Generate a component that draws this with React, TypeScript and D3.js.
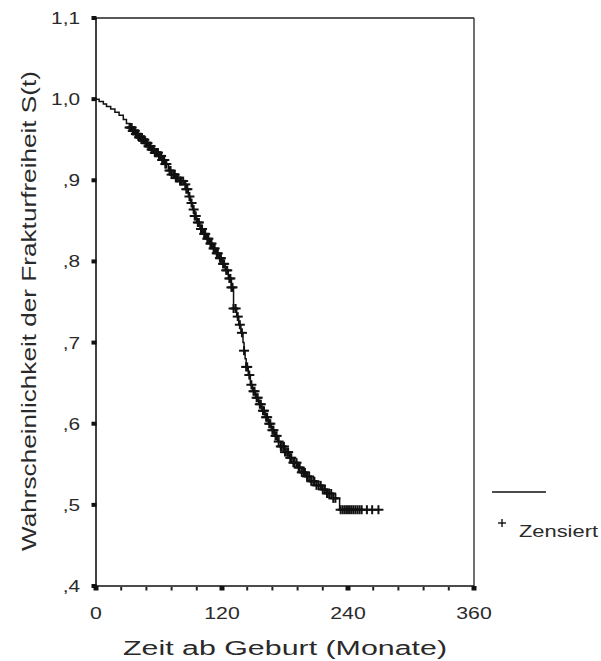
import React from "react";
import * as d3 from "d3";

// Kaplan-Meier step points: [time (months), survival after step]
const eventTimes = [0, 3, 7, 10, 14, 18, 22, 26, 29, 32, 35, 38, 41, 44, 47, 50, 53, 56, 60, 63, 66, 69, 72, 76, 80, 84, 86, 88, 90, 92, 94, 96, 99, 102, 105, 108, 111, 114, 117, 120, 123, 126, 129, 131, 134, 136, 138, 140, 141, 142, 143, 145, 147, 149, 152, 155, 158, 161, 164, 167, 170, 173, 176, 180, 184, 188, 192, 196, 200, 205, 210, 215, 220, 226, 232, 270];
const survival = [1.0, 0.997, 0.994, 0.991, 0.988, 0.984, 0.98, 0.975, 0.97, 0.965, 0.961, 0.957, 0.953, 0.95, 0.946, 0.942, 0.938, 0.934, 0.93, 0.925, 0.92, 0.912, 0.907, 0.903, 0.899, 0.895, 0.889, 0.88, 0.872, 0.864, 0.856, 0.848, 0.84, 0.834, 0.828, 0.822, 0.816, 0.81, 0.804, 0.797, 0.789, 0.779, 0.768, 0.742, 0.732, 0.722, 0.712, 0.7, 0.69, 0.68, 0.67, 0.66, 0.648, 0.64, 0.632, 0.624, 0.616, 0.608, 0.6, 0.592, 0.585, 0.578, 0.572, 0.565, 0.558, 0.552, 0.546, 0.54, 0.535, 0.529, 0.524, 0.519, 0.514, 0.508, 0.494, 0.494];

// Censored observation times (months)
const censoredTimes = [
  32, 33, 34, 35, 36, 37, 38, 39, 40, 41, 42, 43, 44, 45, 46, 47, 48, 49, 50, 51, 52, 53, 54, 55, 56, 57, 58, 59, 60, 61, 62, 63, 64, 65, 66, 67,
  70, 71, 72, 74, 75, 76, 77, 78, 80, 81, 83, 85, 86, 87, 89, 91, 93, 94, 95, 97, 98, 100, 101, 103, 104,
  106, 107, 109, 110, 112, 113, 115, 116, 118, 119, 121, 122, 124, 125, 127, 128, 129, 130,
  131, 133, 135, 137, 139, 141, 143, 144, 146, 148, 150, 151, 153, 154, 156, 157, 159, 160, 162, 163, 165, 166, 168, 169, 171, 172, 174,
  176, 177, 179, 180, 182, 183, 185, 186, 188, 189, 191, 193, 194, 196, 198, 199, 201, 203, 205, 207, 208, 210, 212, 214, 216, 218, 220, 222, 224, 226, 228,
  233, 235, 237, 239, 241, 243, 245, 247, 249, 251, 253, 258, 263, 269,
];

const xTickValues = [0, 120, 240, 360];
const xTickLabels = ["0", "120", "240", "360"];
const xMinorTicks = [24, 48, 72, 96, 144, 168, 192, 216, 264, 288, 312, 336];
const yTickValues = [1.1, 1.0, 0.9, 0.8, 0.7, 0.6, 0.5, 0.4];
const yTickLabels = ["1,1", "1,0", ",9", ",8", ",7", ",6", ",5", ",4"];

const xTitle = "Zeit ab Geburt (Monate)";
const yTitle = "Wahrscheinlichkeit der Frakturfreiheit S(t)";
const legendLabel = "Zensiert";

export default function App() {
  const W = 601, H = 661;
  const x = d3.scaleLinear().domain([0, 360]).range([96, 474]);
  const y = d3.scaleLinear().domain([0.4, 1.1]).range([586, 18]);

  const pts: [number, number][] = eventTimes.map((t, i) => [t, survival[i]]);
  const line = d3
    .line<[number, number]>()
    .x((d) => x(d[0]))
    .y((d) => y(d[1]))
    .curve(d3.curveStepAfter);

  const survAt = (t: number) => {
    let s = survival[0];
    for (let i = 0; i < eventTimes.length; i++) {
      if (eventTimes[i] <= t) s = survival[i];
    }
    return s;
  };

  const font = "'Liberation Sans', Arial, sans-serif";
  const txt = "#2a2a2a";
  const [x0, x1] = x.range();
  const [y0, y1] = y.range();

  return (
    <svg width={W} height={H} style={{ position: "absolute", left: 0, top: 0, background: "#fff" }}>
      <rect x={0} y={0} width={W} height={H} fill="#fff" />
      {/* frame */}
      <line x1={x0} x2={x1} y1={y1} y2={y1} stroke="#222" strokeWidth={1.3} />
      <line x1={x1} x2={x1} y1={y1} y2={y0} stroke="#222" strokeWidth={1.3} />
      <line x1={x0} x2={x1} y1={y0} y2={y0} stroke="#111" strokeWidth={1.6} />
      <line x1={x0} x2={x0} y1={y1} y2={y0} stroke="#111" strokeWidth={1.6} />

      {/* y ticks */}
      {yTickValues.map((v, i) => (
        <g key={"yt" + i}>
          <rect x={x0 - 4.5} y={y(v) - 2} width={5} height={4} fill="#111" />
          <text
            transform={`translate(${80},${y(v) + 6}) scale(1.3,1)`}
            textAnchor="end"
            fontFamily={font}
            fontSize={16}
            fill={txt}
          >
            {yTickLabels[i]}
          </text>
        </g>
      ))}

      {/* x ticks */}
      {xTickValues.map((v, i) => (
        <g key={"xt" + i}>
          <rect x={x(v) - 2.5} y={y0} width={5} height={4.5} fill="#111" />
          <text
            transform={`translate(${x(v)},${619}) scale(1.25,1)`}
            textAnchor="middle"
            fontFamily={font}
            fontSize={17}
            fill={txt}
          >
            {xTickLabels[i]}
          </text>
        </g>
      ))}
      {xMinorTicks.map((v, i) => (
        <rect key={"xm" + i} x={x(v) - 1} y={y0 + 1} width={2} height={3.5} fill="#222" />
      ))}

      {/* survival curve */}
      <path d={line(pts) ?? ""} fill="none" stroke="#111" strokeWidth={1.5} />

      {/* censor marks */}
      {censoredTimes.map((t, i) => {
        const cx = x(t);
        const cy = y(survAt(t));
        return (
          <g key={"c" + i} stroke="#111" strokeWidth={2}>
            <line x1={cx - 5} x2={cx + 5} y1={cy} y2={cy} />
            <line x1={cx} x2={cx} y1={cy - 4.5} y2={cy + 4.5} />
          </g>
        );
      })}

      {/* axis titles */}
      <text
        x={285}
        y={655}
        textAnchor="middle"
        fontFamily={font}
        fontSize={20}
        fill={txt}
        textLength={324}
        lengthAdjust="spacingAndGlyphs"
      >
        {xTitle}
      </text>
      <text
        transform={`translate(36,${311}) rotate(-90)`}
        textAnchor="middle"
        fontFamily={font}
        fontSize={20}
        fill={txt}
        textLength={480}
        lengthAdjust="spacingAndGlyphs"
      >
        {yTitle}
      </text>

      {/* legend */}
      <line x1={492} x2={546} y1={492} y2={492} stroke="#111" strokeWidth={1.3} />
      <g stroke="#111" strokeWidth={1.4}>
        <line x1={498} x2={506} y1={523} y2={523} />
        <line x1={502} x2={502} y1={519} y2={527} />
      </g>
      <text
        x={519}
        y={537}
        fontFamily={font}
        fontSize={16}
        fill={txt}
        textLength={79}
        lengthAdjust="spacingAndGlyphs"
      >
        {legendLabel}
      </text>
    </svg>
  );
}
